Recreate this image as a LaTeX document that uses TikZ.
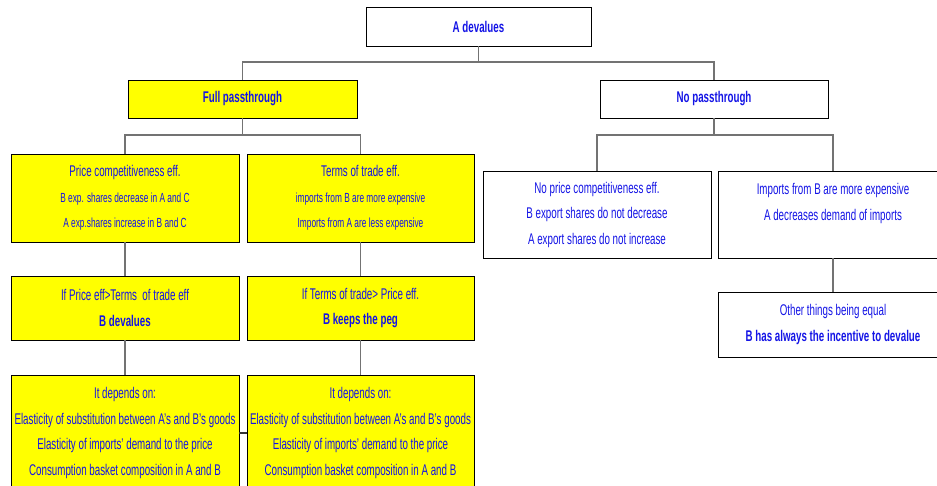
\documentclass[tikz,border=0pt]{standalone}
\usepackage{fontspec}
\setmainfont{Liberation Sans}[FakeStretch=0.63]
\usetikzlibrary{positioning, calc}

\definecolor{txtblue}{RGB}{20,20,230}
\definecolor{boxyellow}{RGB}{255,255,0}

\newcommand{\sm}{\fontsize{13.2}{23.5}\selectfont}

\begin{document}
\begin{tikzpicture}[
  x=1pt, y=-1pt,
  % ---- styles ----
  box/.style 2 args={%
    draw=black, line width=0.9pt, fill=#1, minimum width=#2,
    inner sep=2pt, align=center, outer sep=0pt, text=txtblue,
    font=\fontsize{15.5}{25.5}\selectfont,
  },
  link/.style={draw=black!55, line width=1.1pt},
]

\clip (0,0) rectangle (937,485);

% =========================================================
% top level
% =========================================================
\node[box={white}{225pt}, minimum height=39pt] (root) at (478.5,26.5)
    {\textbf{A devalues}};
\node[box={boxyellow}{229pt}, minimum height=38pt] (full) at (242.5,99)
    {\textbf{Full passthrough}};
\node[box={white}{228pt}, minimum height=38pt] (nopass) at (714,99)
    {\textbf{No passthrough}};

% =========================================================
% full passthrough branch
% =========================================================
\node[box={boxyellow}{228pt}, minimum height=88pt] (pc) at (125,198)
    {Price competitiveness eff.\\
     \sm B exp. shares decrease in A and C\\
     \sm A exp.shares increase in B and C};
\node[box={boxyellow}{227pt}, minimum height=88pt, right=8pt of pc] (tt)
    {Terms of trade eff.\\
     \sm imports from B are more expensive\\
     \sm Imports from A are less expensive};

\node[box={boxyellow}{228pt}, minimum height=64pt, below=34pt of pc] (ifp)
    {If Price eff>Terms\ \ of trade eff\\
     \textbf{B devalues}};
\node[box={boxyellow}{227pt}, minimum height=64pt, right=8pt of ifp] (ift)
    {If Terms of trade> Price eff.\\
     \textbf{B keeps the peg}};

\node[box={boxyellow}{228pt}, minimum height=116pt, below=35pt of ifp] (dep1)
    {It depends on:\\
     Elasticity of substitution between A's and B's goods\\
     Elasticity of imports' demand to the price\\
     Consumption basket composition in A and B};
\node[box={boxyellow}{227pt}, minimum height=116pt, right=8pt of dep1] (dep2)
    {It depends on:\\
     Elasticity of substitution between A's and B's goods\\
     Elasticity of imports' demand to the price\\
     Consumption basket composition in A and B};

% =========================================================
% no passthrough branch
% =========================================================
\node[box={white}{228pt}, minimum height=87pt] (npc) at (597,214.5)
    {No price competitiveness eff.\\
     B export shares do not decrease\\
     A export shares do not increase};
\node[box={white}{230pt}, minimum height=87pt, right=7pt of npc] (imp)
    {Imports from B are more expensive\\
     A decreases demand of imports\\
     \mbox{}};
\node[box={white}{230pt}, minimum height=65pt, below=34pt of imp] (oth)
    {Other things being equal\\
     \textbf{B has always the incentive to devalue}};

% =========================================================
% connectors
% =========================================================
\draw[link] (root.south) -- ++(0,16) coordinate (rj);
\draw[link] (rj) -| (full.north);
\draw[link] (rj) -| (nopass.north);

\draw[link] (full.south) -- ++(0,17) coordinate (fj);
\draw[link] (fj) -| (pc.north);
\draw[link] (fj) -| (tt.north);

\draw[link] (nopass.south) -- ++(0,17) coordinate (nj);
\draw[link] (nj) -| (npc.north);
\draw[link] (nj) -| (imp.north);

\draw[link] (pc) -- (ifp);
\draw[link] (tt) -- (ift);
\draw[link] (ifp) -- (dep1);
\draw[link] (ift) -- (dep2);
\draw[link] (imp) -- (oth);
\draw[link, draw=black!80] (dep1) -- (dep2);

\end{tikzpicture}
\end{document}
